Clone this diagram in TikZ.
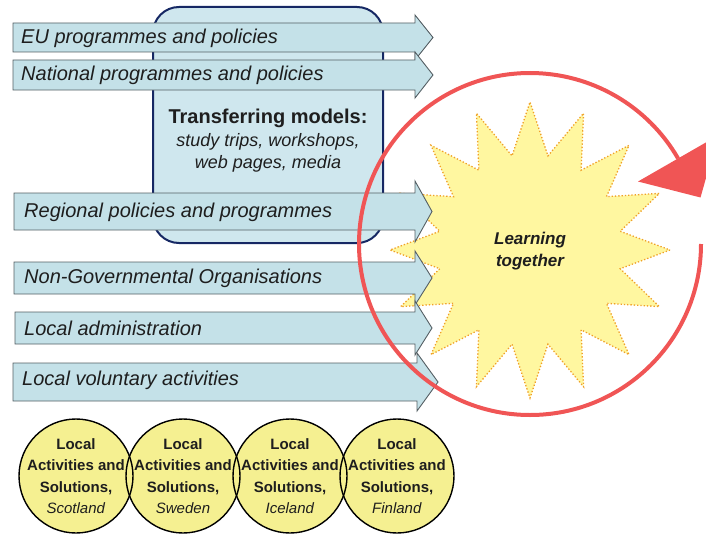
\documentclass[tikz,border=0pt]{standalone}
\usepackage{fontspec}
\setmainfont{Liberation Sans}
\definecolor{arrowfill}{RGB}{196,225,232}
\definecolor{arrowline}{RGB}{85,95,100}
\definecolor{rectfill}{RGB}{207,231,238}
\definecolor{navy}{RGB}{22,40,100}
\definecolor{starfill}{RGB}{255,247,160}
\definecolor{stardot}{RGB}{240,160,40}
\definecolor{loopred}{RGB}{240,85,85}
\definecolor{discfill}{RGB}{245,240,145}
\definecolor{txt}{RGB}{30,30,30}
\tikzset{
  arrowbox/.style={fill=arrowfill, draw=arrowline, line width=0.9pt, line join=miter},
  arrowtext/.style={anchor=west, inner sep=0pt, text=txt, font=\fontsize{20}{22}\selectfont\itshape},
  modelbox/.style={fill=rectfill, draw=navy, line width=2pt, rounded corners=26pt},
  starshape/.style={fill=starfill, draw=stardot, line width=1.3pt, dotted},
  loop/.style={draw=loopred, line width=4pt},
  disc/.style={circle, fill=discfill, minimum size=114pt, inner sep=0pt},
  discborder/.style={draw=black, line width=1.4pt},
  disctext/.style={inner sep=0pt, align=center, text=txt, font=\fontsize{15}{21.5}\selectfont}
}
\newcommand{\flowarrow}[6]{%
  \path[arrowbox] (#1,#4) -- (#2,#4) -- (#2,{#4-#6}) -- (#3,{(#4+#5)/2}) -- (#2,{#5+#6}) -- (#2,#5) -- (#1,#5) -- cycle;}
\begin{document}
\begin{tikzpicture}[x=1pt,y=-1pt]
\useasboundingbox (0,0) rectangle (706,535);
% star burst
\begin{scope}[shift={(530,250)}]
\path[starshape] (140,0) \foreach \i [evaluate=\i as \rx using {mod(\i,2)==0 ? 140 : 92}, evaluate=\i as \ry using {mod(\i,2)==0 ? 148 : 96}, evaluate=\i as \a using \i*11.25] in {1,...,31} { -- ({\rx*cos(\a)},{\ry*sin(\a)}) } -- cycle;
\end{scope}
% transferring models box
\path[modelbox] (153,7) rectangle (383,243);
\node[inner sep=0pt, align=center, text=txt, font=\fontsize{18}{22.5}\selectfont\itshape] (tm) at (268,141)
  {{\fontsize{20}{22.5}\selectfont\bfseries\upshape Transferring models:}\\study trips, workshops,\\web pages, media};
% arrows
\flowarrow{13}{415}{433}{23}{52}{8}
\flowarrow{13}{415}{433}{60}{90}{8}
\flowarrow{14}{415}{432}{193}{230}{12}
\flowarrow{14}{415}{432}{262}{294}{11}
\flowarrow{15}{415}{432}{312}{344}{11}
\flowarrow{13}{417}{438}{363}{401}{10}
\node[arrowtext] (eu) at (21,38) {EU programmes and policies};
\node[arrowtext] (nat) at (21,75) {National programmes and policies};
\node[arrowtext] (reg) at (24,212) {Regional policies and programmes};
\node[arrowtext] (ngo) at (24,278) {Non-Governmental Organisations};
\node[arrowtext] (adm) at (24,328) {Local administration};
\node[arrowtext] (vol) at (22,380) {Local voluntary activities};
% learning together
\node[inner sep=0pt, align=center, text=txt, font=\fontsize{17}{22}\selectfont\bfseries\itshape] (learn) at (530,251) {Learning\\together};
% red loop
\coordinate (lc) at (530,244);
\draw[loop] (lc) ++(0:171) arc[start angle=0, end angle=330, radius=171] coordinate (loopend);
\fill[loopred] (638,181.5) -- (718,135.5) -- (700.5,197.5) -- cycle;
% local discs
\node[disc] (sco) at (76,476) {};
\node[disc] (swe) at (183,476) {};
\node[disc] (ice) at (290,476) {};
\node[disc] (fin) at (397,476) {};
\foreach \n in {sco,swe,ice,fin} \draw[discborder] (\n.center) circle[radius=57];
\node[disctext] (scot) at (sco.center) {\textbf{Local}\\\textbf{Activities and}\\\textbf{Solutions,}\\\textit{Scotland}};
\node[disctext] (swet) at (swe.center) {\textbf{Local}\\\textbf{Activities and}\\\textbf{Solutions,}\\\textit{Sweden}};
\node[disctext] (icet) at (ice.center) {\textbf{Local}\\\textbf{Activities and}\\\textbf{Solutions,}\\\textit{Iceland}};
\node[disctext] (fint) at (fin.center) {\textbf{Local}\\\textbf{Activities and}\\\textbf{Solutions,}\\\textit{Finland}};
\end{tikzpicture}
\end{document}
